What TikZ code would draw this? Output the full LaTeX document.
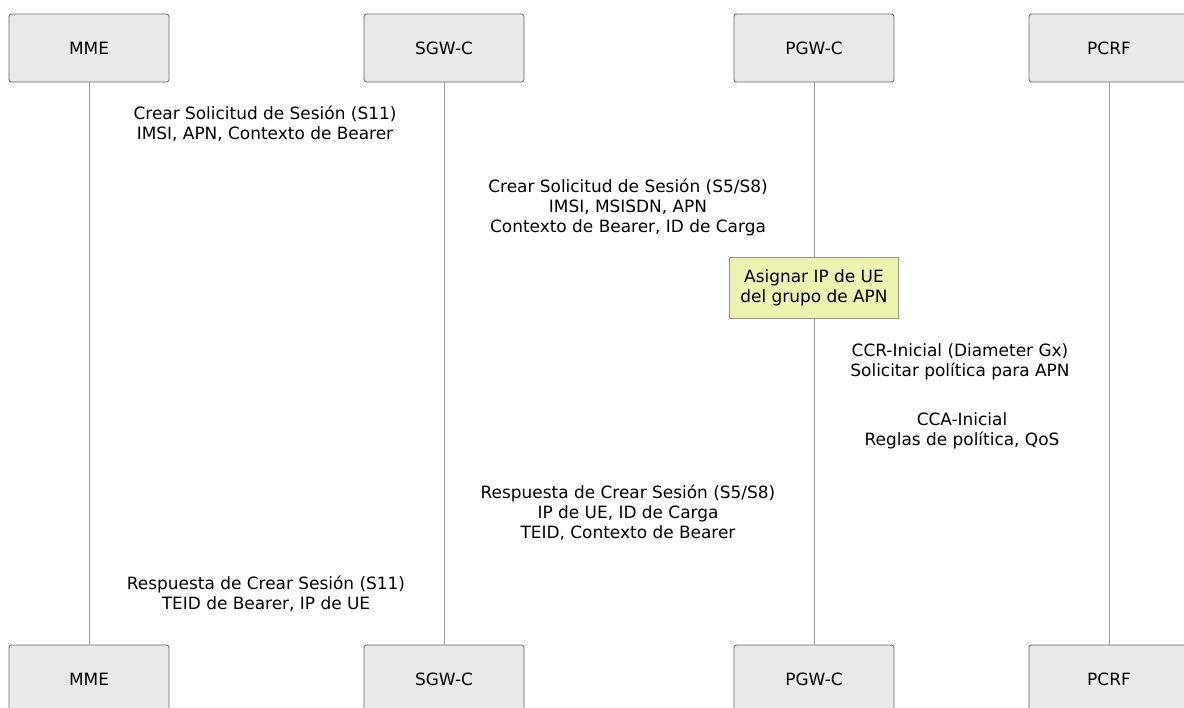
\documentclass[tikz,border=0pt]{standalone}
\usepackage{fontspec}
\setmainfont{DejaVu Sans}
\usepackage{tikz}
\usetikzlibrary{positioning}
\definecolor{boxgray}{RGB}{234,234,234}
\definecolor{boxline}{RGB}{102,102,102}
\definecolor{lifegray}{RGB}{160,160,160}
\definecolor{notefill}{RGB}{238,243,176}
\definecolor{noteline}{RGB}{150,150,150}
\tikzset{
  actor/.style={draw=boxline, fill=boxgray, rounded corners=2pt, line width=0.6pt,
    minimum width=120pt, minimum height=51pt, font=\fontsize{12.7}{15}\selectfont},
  msg/.style={align=center, font=\fontsize{12.7}{15}\selectfont},
  notebox/.style={draw=noteline, fill=notefill, line width=0.6pt, align=center,
    minimum width=127pt, minimum height=46pt, font=\fontsize{12.7}{15}\selectfont}
}

\begin{document}
\begin{tikzpicture}[x=0.75pt,y=-0.75pt]
\useasboundingbox (0,0) rectangle (1184,707);
% participants
\node[actor] (mme) at (89,48) {MME};
\node[actor] (sgw) at (444,48) {SGW-C};
\node[actor] (pgw) at (814,48) {PGW-C};
\node[actor] (pcrf) at (1109,48) {PCRF};
\node[actor] (mmeB) at (89,679) {MME};
\node[actor] (sgwB) at (444,679) {SGW-C};
\node[actor] (pgwB) at (814,679) {PGW-C};
\node[actor] (pcrfB) at (1109,679) {PCRF};
% lifelines
\draw[lifegray, line width=0.6pt] (mme) -- (mmeB);
\draw[lifegray, line width=0.6pt] (sgw) -- (sgwB);
\draw[lifegray, line width=0.6pt] (pgw) -- (pgwB);
\draw[lifegray, line width=0.6pt] (pcrf) -- (pcrfB);
% messages
\node[msg] (m1) at (265,124) {Crear Solicitud de Sesión (S11)\\IMSI, APN, Contexto de Bearer};
\node[msg] (m2) at (628,207) {Crear Solicitud de Sesión (S5/S8)\\IMSI, MSISDN, APN\\Contexto de Bearer, ID de Carga};
\node[notebox] (ip) at (814,288) {Asignar IP de UE\\del grupo de APN};
\node[msg] (m3) at (960,362) {CCR-Inicial (Diameter Gx)\\Solicitar política para APN};
\node[msg] (m4) at (962,431) {CCA-Inicial\\Reglas de política, QoS};
\node[msg] (m5) at (628,513) {Respuesta de Crear Sesión (S5/S8)\\IP de UE, ID de Carga\\TEID, Contexto de Bearer};
\node[msg] (m6) at (266,594) {Respuesta de Crear Sesión (S11)\\TEID de Bearer, IP de UE};
\end{tikzpicture}
\end{document}
